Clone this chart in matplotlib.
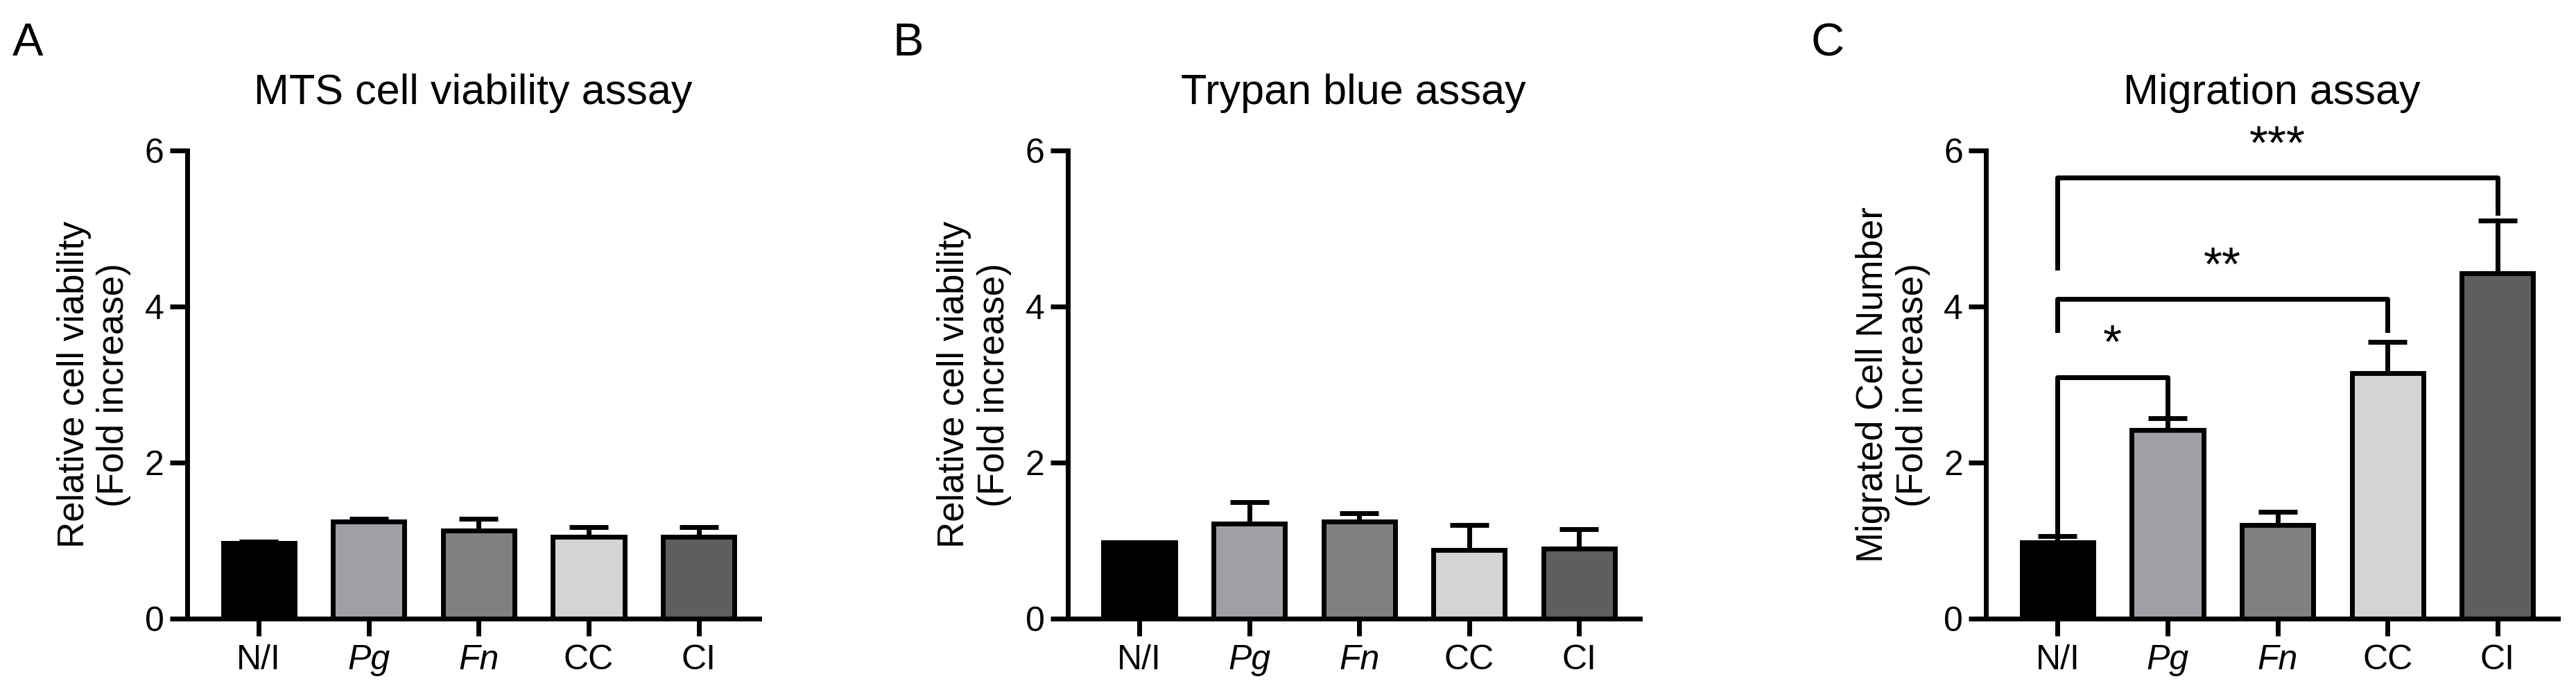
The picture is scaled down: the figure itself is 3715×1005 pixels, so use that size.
import matplotlib
matplotlib.use("Agg")
import matplotlib.pyplot as plt
import numpy as np

plt.rcParams['font.family'] = ['Liberation Sans', 'DejaVu Sans']

categories = ["N/I", "Pg", "Fn", "CC", "CI"]
italic_cats = [False, True, True, False, False]
colors = ["#000000", "#a09fa6", "#808080", "#d4d4d4", "#5e5e5e"]

mts_vals = [0.97, 1.25, 1.13, 1.05, 1.05]
mts_err = [0.02, 0.03, 0.15, 0.13, 0.13]
trypan_vals = [0.98, 1.22, 1.25, 0.88, 0.90]
trypan_err = [0.0, 0.28, 0.10, 0.32, 0.25]
mig_vals = [0.98, 2.42, 1.20, 3.15, 4.43]
mig_err = [0.08, 0.15, 0.17, 0.40, 0.67]

# significance brackets: (i, j, bar height, left drop, right drop, label)
brackets = [(0, 1, 3.1, 1.1, 2.6, "*"),
            (0, 3, 4.1, 3.7, 3.7, "**"),
            (0, 4, 5.65, 4.5, 5.2, "***")]

titles = ["MTS cell viability assay", "Trypan blue assay", "Migration assay"]
ylabels = ["Relative cell viability\n(Fold increase)",
           "Relative cell viability\n(Fold increase)",
           "Migrated Cell Number\n(Fold increase)"]
letters = ["A", "B", "C"]
lefts = [0.0727, 0.4145, 0.771]
width = 0.222

fig = plt.figure(figsize=(37.15, 10.05), dpi=100)
datasets = [(mts_vals, mts_err), (trypan_vals, trypan_err), (mig_vals, mig_err)]
lw = 5
for k in range(3):
    ax = fig.add_axes([lefts[k], 0.112, width, 0.672])
    vals, errs = datasets[k]
    x = np.arange(len(categories))
    ax.bar(x, vals, width=0.65, color=colors, edgecolor="black", linewidth=lw, zorder=2)
    for xi, v, e in zip(x, vals, errs):
        if e > 0:
            ax.errorbar(xi, v, yerr=[[0], [e]], color="black", elinewidth=lw,
                        capsize=20, capthick=lw, zorder=1)
    ax.set_xlim(-0.65, 4.55)
    ax.set_ylim(0, 6)
    ax.set_yticks([0, 2, 4, 6])
    ax.set_xticks(x)
    ax.set_xticklabels(categories)
    for lab, it in zip(ax.get_xticklabels(), italic_cats):
        if it:
            lab.set_style("italic")
    ax.tick_params(axis='both', labelsize=36, width=lw, length=18)
    ax.tick_params(axis='y', pad=6)
    ax.tick_params(axis='x', pad=8)
    for s in ["top", "right"]:
        ax.spines[s].set_visible(False)
    for s in ["left", "bottom"]:
        ax.spines[s].set_linewidth(lw)
    ax.set_ylabel(ylabels[k], fontsize=38, labelpad=14)
    ax.set_title(titles[k], fontsize=44, pad=48)
    fig.text(lefts[k] - 0.068, 0.92, letters[k], fontsize=48)
    if k == 2:
        for i, j, h, dl, dr, lab in brackets:
            ax.plot([i, i, j, j], [dl, h, h, dr], color="black", lw=lw, zorder=3)
            ax.text((i + j) / 2, h + 0.12, lab, ha="center", va="bottom",
                    fontsize=50)

fig.savefig("out.png", dpi=100)
